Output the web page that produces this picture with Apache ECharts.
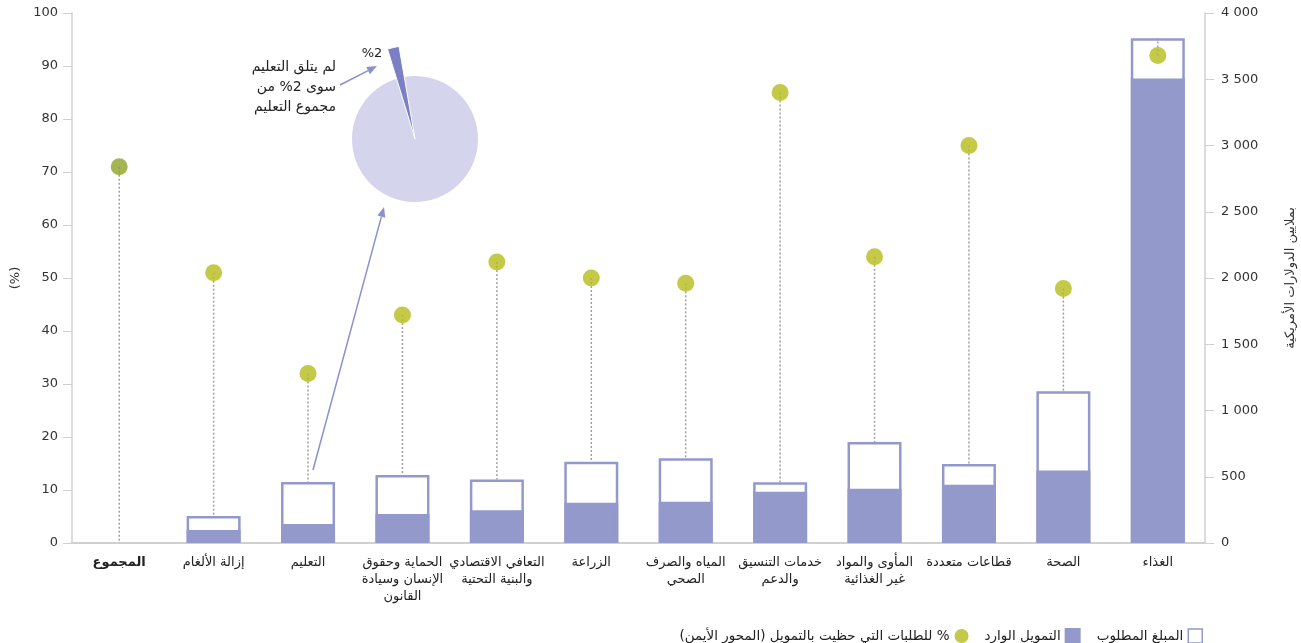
<!DOCTYPE html>
<html>
<head>
<meta charset="utf-8">
<script src="https://cdn.jsdelivr.net/npm/echarts@6/dist/echarts.min.js"></script>
<style>
html,body{margin:0;padding:0;background:#fff;}
#chart{width:1301px;height:643px;}
</style>
</head>
<body>
<div id="chart"></div>
<script>
// ---------- data ----------
const categories = ['المجموع','إزالة الألغام','التعليم','الحماية وحقوق\nالإنسان وسيادة\nالقانون','التعافي الاقتصادي\nوالبنية التحتية','الزراعة','المياه والصرف\nالصحي','خدمات التنسيق\nوالدعم','المأوى والمواد\nغير الغذائية','قطاعات متعددة','الصحة','الغذاء'];
const requiredAmount = [null, 203, 460, 514, 480, 614, 640, 459, 763, 596, 1145, 3810];
const fundedAmount   = [null,  99, 143, 218, 248, 303, 311, 386, 409, 439,  547, 3506];
const fundedPct      = [71, 51, 32, 43, 53, 50, 49, 85, 54, 75, 48, 92];
const leftTicks  = {min: 0, max: 100, interval: 10};
const rightTicks = {min: 0, max: 4000, interval: 500};
const educationPie = [2, 98];

const nameRequired = 'المبلغ المطلوب';
const nameFunded = 'التمويل الوارد';
const namePct = '% للطلبات التي حظيت بالتمويل (المحور الأيمن)';
const rightAxisName = 'بملايين الدولارات الأمريكية';
const leftAxisName = '(%)';
const noteLines = ['لم يتلق التعليم', 'سوى 2% من', 'مجموع التعليم'];
const sliceLabel = '%2';

// ---------- styling ----------
const FONT = '"DejaVu Sans", sans-serif';
const barColor = '#9499cb';
const dotColor = '#b5bc19';
const totalDotColor = '#8fa226';
const arrowColor = '#8d91cb';

function arrow(x1, y1, x2, y2) {
  const dx = x2 - x1, dy = y2 - y1, len = Math.sqrt(dx*dx + dy*dy);
  const ux = dx/len, uy = dy/len, hl = 10, hw = 4;
  const bx = x2 - ux*hl, by = y2 - uy*hl;
  return [
    {type:'line', shape:{x1:x1, y1:y1, x2:bx, y2:by}, style:{stroke:arrowColor, lineWidth:1.5}, z:50},
    {type:'polygon', shape:{points:[[x2,y2],[bx - uy*hw, by + ux*hw],[bx + uy*hw, by - ux*hw]]}, style:{fill:arrowColor}, z:50}
  ];
}

const chart = echarts.init(document.getElementById('chart'), null, {renderer:'canvas'});

const stemData = categories.map((c, i) => [i, fundedPct[i], (requiredAmount[i] || 0) / rightTicks.max * leftTicks.max]);

const option = {
  backgroundColor: '#fff',
  textStyle: {fontFamily: FONT},
  animation: false,
  grid: {left: 72, right: 96, top: 13, bottom: 100, containLabel: false, outerBoundsMode: 'none'},
  legend: {
    top: 623, right: 93,
    align: 'right',
    itemWidth: 14, itemHeight: 14, itemGap: 16,
    textStyle: {fontSize: 13.5, color: '#222', fontFamily: FONT},
    formatter: n => '\u202B' + n + '\u202C',
    data: [
      {name: namePct, icon: 'circle'},
      {name: nameFunded, icon: 'rect'},
      {name: nameRequired, icon: 'rect', itemStyle: {color: '#fff', borderColor: barColor, borderWidth: 1.5}}
    ]
  },
  xAxis: {
    type: 'category',
    data: categories,
    axisLine: {lineStyle: {color: '#d0d0d0', width: 2}},
    axisTick: {show: false},
    axisLabel: {
      interval: 0, margin: 11, fontSize: 13, color: '#222', lineHeight: 17, fontFamily: FONT,
      formatter: (v, i) => i === 0 ? '{b|' + v + '}' : v,
      rich: {b: {fontWeight: 'bold', fontSize: 13, color: '#222', fontFamily: FONT}}
    }
  },
  yAxis: [
    {
      type: 'value', min: leftTicks.min, max: leftTicks.max, interval: leftTicks.interval,
      position: 'left',
      name: leftAxisName, nameLocation: 'middle', nameRotate: 90, nameGap: 47,
      nameTextStyle: {fontSize: 13, color: '#333', fontFamily: FONT},
      axisLine: {show: true, lineStyle: {color: '#d0d0d0', width: 1.5}},
      axisTick: {show: true, length: 9, lineStyle: {color: '#d0d0d0'}},
      axisLabel: {fontSize: 13, color: '#333', margin: 14, fontFamily: FONT},
      splitLine: {show: false}
    },
    {
      type: 'value', min: rightTicks.min, max: rightTicks.max, interval: rightTicks.interval,
      position: 'right',
      name: rightAxisName, nameLocation: 'middle', nameRotate: 90, nameGap: 79,
      nameTextStyle: {fontSize: 13, color: '#333', fontFamily: FONT},
      axisLine: {show: true, lineStyle: {color: '#d0d0d0', width: 1.5}},
      axisTick: {show: true, length: 9, lineStyle: {color: '#d0d0d0'}},
      axisLabel: {fontSize: 13, color: '#333', margin: 16, fontFamily: FONT,
        formatter: v => String(v).replace(/\B(?=(\d{3})+(?!\d))/g, ' ')},
      splitLine: {show: false}
    }
  ],
  series: [
    {
      name: nameRequired, type: 'bar', yAxisIndex: 1, barWidth: 54, barGap: '-100%',
      data: requiredAmount,
      itemStyle: {color: '#fff', borderColor: barColor, borderWidth: 2.5},
      z: 2
    },
    {
      name: nameFunded, type: 'bar', yAxisIndex: 1, barWidth: 54, barGap: '-100%',
      data: fundedAmount,
      itemStyle: {color: barColor, borderColor: barColor, borderWidth: 2.5},
      z: 3
    },
    {
      name: 'stems', type: 'custom', yAxisIndex: 0, silent: true,
      data: stemData,
      encode: {x: 0, y: 1},
      renderItem: (params, api) => {
        const p1 = api.coord([api.value(0), api.value(1)]);
        const p2 = api.coord([api.value(0), api.value(2)]);
        return {type: 'line', shape: {x1: p1[0], y1: p1[1], x2: p2[0], y2: p2[1]},
          style: {stroke: '#a0a0a0', lineWidth: 1.5, lineDash: [2, 2]}};
      },
      z: 4
    },
    {
      name: namePct, type: 'scatter', yAxisIndex: 0, symbol: 'circle', symbolSize: 17,
      itemStyle: {color: dotColor},
      data: fundedPct.map((v, i) => i === 0 ? {value: v, itemStyle: {color: totalDotColor}} : v),
      z: 6
    },
    {
      name: 'pieBase', type: 'pie', center: [415, 139], radius: [0, 63],
      startAngle: 107, clockwise: true, silent: true,
      label: {show: false}, labelLine: {show: false},
      data: [
        {value: educationPie[0], itemStyle: {color: 'rgba(0,0,0,0)'}},
        {value: educationPie[1], itemStyle: {color: '#d4d4ec'}}
      ],
      z: 10
    },
    {
      name: 'pieSlice', type: 'pie', center: [415, 139], radius: [0, 94],
      startAngle: 107, clockwise: true, silent: true,
      label: {show: false}, labelLine: {show: false},
      data: [
        {value: educationPie[0], itemStyle: {color: '#7b80c4', borderColor: '#fff', borderWidth: 1}},
        {value: educationPie[1], itemStyle: {color: 'rgba(0,0,0,0)'}}
      ],
      z: 11
    }
  ],
  graphic: [].concat(
    arrow(313, 470, 384, 207),
    arrow(340, 85, 377, 66),
    noteLines.map((t, k) => ({
      type: 'text', z: 60,
      style: {text: '\u202B' + t + '\u202C', x: 336, y: 67 + k * 20, textAlign: 'right', textVerticalAlign: 'middle',
        font: '14px ' + FONT, fill: '#222'}
    })),
    [{
      type: 'text', z: 60,
      style: {text: sliceLabel, x: 372, y: 54, textAlign: 'center', textVerticalAlign: 'middle',
        font: '13px ' + FONT, fill: '#222'}
    }]
  )
};

chart.setOption(option);
</script>
</body>
</html>
